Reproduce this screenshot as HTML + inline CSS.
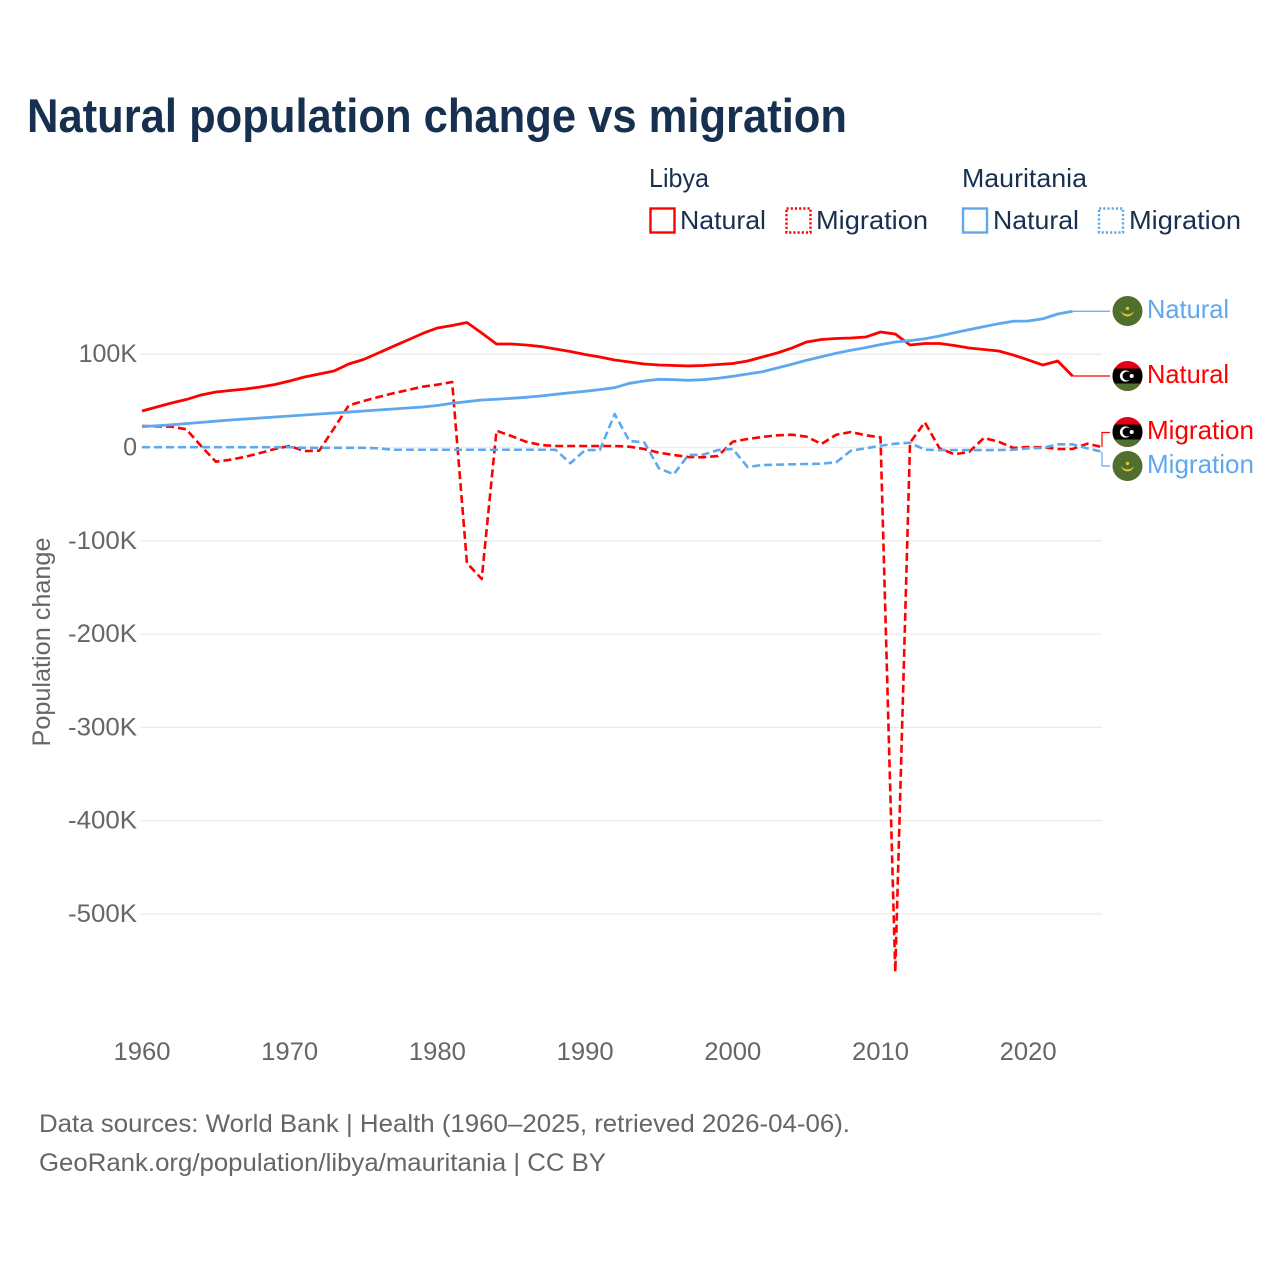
<!DOCTYPE html>
<html lang="en">
<head>
<meta charset="utf-8">
<title>Natural population change vs migration</title>
<style>
html,body{margin:0;padding:0;background:#fff;width:1280px;height:1280px;overflow:hidden}
svg{display:block}
text{font-family:"Liberation Sans",sans-serif}
</style>
</head>
<body>
<svg id="chart" xmlns="http://www.w3.org/2000/svg" width="1280" height="1280" viewBox="0 0 1280 1280">
  <defs>
    <clipPath id="clip-flag"><circle cx="0" cy="0" r="15"/></clipPath>
    <g id="flag-libya">
      <g clip-path="url(#clip-flag)">
        <rect x="-15" y="-15" width="30" height="30" fill="#e70013"/>
        <rect x="-15" y="-7.5" width="30" height="15" fill="#000"/>
        <rect x="-15" y="7.5" width="30" height="8" fill="#4f7132"/>
        <circle cx="-2" cy="0" r="5.6" fill="#fff"/>
        <circle cx="-0.4" cy="0" r="4.5" fill="#000"/>
        <circle cx="4.2" cy="0" r="2" fill="#fff"/>
      </g>
    </g>
    <g id="flag-mauritania">
      <g clip-path="url(#clip-flag)">
        <rect x="-15" y="-15" width="30" height="30" fill="#4f6f2f"/>
        <path d="M-6.5,0 A6.6,6.6 0 0 0 6.5,0 A8,8 0 0 1 -6.5,0 Z" fill="#e6c52e"/>
        <circle cx="0" cy="-2.6" r="1.7" fill="#e6c52e"/>
      </g>
    </g>
  </defs>

  <text x="27" y="132" font-size="47" font-weight="700" fill="#18304f" textLength="820" lengthAdjust="spacingAndGlyphs">Natural population change vs migration</text>

  <g font-size="26" fill="#18304f">
    <text x="649" y="187" textLength="60" lengthAdjust="spacingAndGlyphs">Libya</text>
    <text x="962" y="187" textLength="125" lengthAdjust="spacingAndGlyphs">Mauritania</text>
    <rect x="650.5" y="208.5" width="24" height="24" fill="none" stroke="#ff0000" stroke-width="2.4"/>
    <text x="680" y="229" textLength="86" lengthAdjust="spacingAndGlyphs">Natural</text>
    <rect x="786.5" y="208.5" width="24" height="24" fill="none" stroke="#ff0000" stroke-width="2.4" stroke-dasharray="2.2 2"/>
    <text x="816" y="229" textLength="112" lengthAdjust="spacingAndGlyphs">Migration</text>
    <rect x="963" y="208.5" width="24" height="24" fill="none" stroke="#5fa8ee" stroke-width="2.4"/>
    <text x="993" y="229" textLength="86" lengthAdjust="spacingAndGlyphs">Natural</text>
    <rect x="1099" y="208.5" width="24" height="24" fill="none" stroke="#5fa8ee" stroke-width="2.4" stroke-dasharray="2.2 2"/>
    <text x="1129" y="229" textLength="112" lengthAdjust="spacingAndGlyphs">Migration</text>
  </g>

  <g id="grid"></g>
  <g id="yticks"></g>
  <g id="xticks"></g>
  <text transform="translate(50,642) rotate(-90)" text-anchor="middle" font-size="25" fill="#666" textLength="209" lengthAdjust="spacingAndGlyphs">Population change</text>
  <g id="series"></g>

  <use href="#flag-mauritania" x="1127.5" y="311"/>
  <use href="#flag-libya" x="1127.5" y="376"/>
  <use href="#flag-libya" x="1127.5" y="432"/>
  <use href="#flag-mauritania" x="1127.5" y="466"/>

  <text x="1147" y="318" font-size="26" fill="#5fa8ee" textLength="82" lengthAdjust="spacingAndGlyphs">Natural</text>
  <text x="1147" y="383" font-size="26" fill="#ff0000" textLength="82" lengthAdjust="spacingAndGlyphs">Natural</text>
  <text x="1147" y="439" font-size="26" fill="#ff0000" textLength="107" lengthAdjust="spacingAndGlyphs">Migration</text>
  <text x="1147" y="473" font-size="26" fill="#5fa8ee" textLength="107" lengthAdjust="spacingAndGlyphs">Migration</text>

  <text x="39" y="1132" font-size="25" fill="#666" textLength="811" lengthAdjust="spacingAndGlyphs">Data sources: World Bank | Health (1960–2025, retrieved 2026-04-06).</text>
  <text x="39" y="1171" font-size="25" fill="#666" textLength="567" lengthAdjust="spacingAndGlyphs">GeoRank.org/population/libya/mauritania | CC BY</text>
</svg>
<script>
const startYear = 1960;
const xTickYears = [1960, 1970, 1980, 1990, 2000, 2010, 2020];
const yTickValues = [100, 0, -100, -200, -300, -400, -500];
const yTickLabels = ['100K', '0', '-100K', '-200K', '-300K', '-400K', '-500K'];

const libyaNatural = [39.1,43.4,47.7,51.4,56.3,59.5,61.1,62.7,64.8,67.5,71.3,75.6,78.8,82,89.5,94.3,101.3,108.3,115.2,122.2,128.1,130.8,134,122.7,110.9,110.9,109.9,108.3,105.6,102.9,99.7,97,93.8,91.6,89.5,88.4,87.9,87.4,87.9,89,90,92.7,97,101.3,106.6,113.1,115.8,116.8,117.4,118.4,123.8,121.6,109.9,111.5,111.5,109.3,106.6,105,103.4,99.1,93.8,88.4,92.7,76.6];
const mauritaniaNatural = [22.3,23.3,24.3,25.6,26.9,28.2,29.5,30.5,31.6,32.7,33.8,34.8,35.9,37,38,39.1,40.2,41.3,42.3,43.4,45,47.4,49.1,50.9,51.7,52.7,53.8,55.2,57,58.7,60.2,62,64.1,68.8,71.3,73.1,72.7,72,72.7,74.2,76.3,78.8,81.2,85.2,89.2,93.5,97.3,101,104.2,107,110.2,113.1,114.5,116.6,119.5,123,126.3,129.5,132.7,135.3,135.6,138,143.1,146];
const libyaMigration = [23,22.7,22.3,19.5,1.6,-15.2,-13.1,-9.9,-5.9,-1.6,1.6,-3.8,-3.4,20.6,45.2,49.8,54.1,58.1,61.6,65.2,67.3,70.2,-123.8,-140.9,18,12.3,6.2,2.7,1.6,1.6,1.6,1.6,1.6,0.9,-1.6,-5.6,-8,-10.2,-10.5,-9.1,6.2,9.1,11.3,13.1,13.7,11.6,3.8,13.7,16.6,13.1,10.9,-562.2,5.1,27,-0.9,-7.3,-4.8,10.2,6.2,-0.5,0.5,0.2,-1.6,-1.6,4.1,0.5];
const mauritaniaMigration = [0.3,0.3,0.3,0.3,0.3,0.3,0.3,0.3,0.3,0.3,0.3,-0.3,-0.3,-0.3,-0.3,-0.3,-0.9,-2.4,-2.4,-2.4,-2.4,-2.4,-2.4,-2.4,-2.4,-2.4,-2.4,-2.4,-2.4,-16.9,-2.7,-2.7,35.9,7,5.6,-22.3,-28.7,-8,-7.7,-2.7,-1.6,-20.9,-18.8,-18.4,-18,-17.7,-17.4,-15.9,-3.4,-0.9,1.9,4.1,5.1,-2.4,-2.7,-2.7,-2.7,-2.7,-2.7,-2.4,-0.9,-0.5,3.4,3.4,-0.9,-4.5];

const RED = '#ff0000';
const BLUE = '#5fa8ee';
const NS = 'http://www.w3.org/2000/svg';
const xScale = function (year) { return 142 + (year - 1960) * 14.77; };
const yScale = function (value) { return 447.5 - value * 0.933; };
const xOf = function (i) { return xScale(startYear + i); };

function make(tag, parent, attrs) {
  const el = document.createElementNS(NS, tag);
  for (const k in attrs) el.setAttribute(k, attrs[k]);
  parent.appendChild(el);
  return el;
}

const gridG = document.getElementById('grid');
const yG = document.getElementById('yticks');
const xG = document.getElementById('xticks');
const seriesG = document.getElementById('series');

yTickValues.forEach(function (v, i) {
  const line = make('line', gridG, { x1: 141, x2: 1102, y1: yScale(v), y2: yScale(v), stroke: '#ececec', 'stroke-width': 1.3 });
  
  
  const label = make('text', yG, { x: 137, y: yScale(v) + 8, 'text-anchor': 'end', 'font-size': 25, fill: '#666' });
  
  
  if (v < 0) {
    label.setAttribute('textLength', '69');
    label.setAttribute('lengthAdjust', 'spacingAndGlyphs');
  }
  label.textContent = yTickLabels[i];
});

xTickYears.forEach(function (year) {
  const label = make('text', xG, { x: xScale(year), y: 1060, 'text-anchor': 'middle', 'font-size': 25, fill: '#666', textLength: 57, lengthAdjust: 'spacingAndGlyphs' });
  
  
  label.textContent = String(year);
});

function linePath(values) {
  return values.map(function (v, i) {
    return (i ? 'L' : 'M') + xOf(i).toFixed(2) + ',' + yScale(v).toFixed(2);
  }).join(' ');
}

const migLibya = make('path', seriesG, { d: linePath(libyaMigration), fill: 'none', stroke: RED, 'stroke-width': 2.6, 'stroke-dasharray': '8 4', 'stroke-linejoin': 'round' });



const migMaur = make('path', seriesG, { d: linePath(mauritaniaMigration), fill: 'none', stroke: BLUE, 'stroke-width': 2.6, 'stroke-dasharray': '8 4', 'stroke-linejoin': 'round' });



const natLibya = make('path', seriesG, { d: linePath(libyaNatural), fill: 'none', stroke: RED, 'stroke-width': 2.8, 'stroke-linejoin': 'round' });



const natMaur = make('path', seriesG, { d: linePath(mauritaniaNatural), fill: 'none', stroke: BLUE, 'stroke-width': 2.8, 'stroke-linejoin': 'round' });



const natLibyaEndX = xOf(libyaNatural.length - 1);
const natLibyaEndY = yScale(libyaNatural[libyaNatural.length - 1]);
const leaderA = make('path', seriesG, { d: 'M' + natLibyaEndX + ',' + natLibyaEndY + ' L1110,' + natLibyaEndY, fill: 'none', stroke: RED, 'stroke-width': 1.2 });



const natMaurEndX = xOf(mauritaniaNatural.length - 1);
const natMaurEndY = yScale(mauritaniaNatural[mauritaniaNatural.length - 1]);
const leaderB = make('path', seriesG, { d: 'M' + natMaurEndX + ',' + natMaurEndY + ' L1110,' + natMaurEndY, fill: 'none', stroke: BLUE, 'stroke-width': 1.2 });



const migLibyaEndY = yScale(libyaMigration[libyaMigration.length - 1]);
const leaderC = make('path', seriesG, { d: 'M1102,' + migLibyaEndY + ' L1102,432.5 L1110,432.5', fill: 'none', stroke: RED, 'stroke-width': 1.2 });



const migMaurEndY = yScale(mauritaniaMigration[mauritaniaMigration.length - 1]);
const leaderD = make('path', seriesG, { d: 'M1102,' + migMaurEndY + ' L1102,466 L1110,466', fill: 'none', stroke: BLUE, 'stroke-width': 1.2 });


</script>
</body>
</html>
